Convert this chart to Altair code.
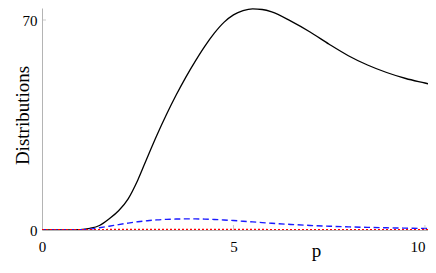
import altair as alt
import pandas as pd

p_vals = [0, 0.5, 1.0, 1.25, 1.5, 1.75, 2.0, 2.25, 2.5, 2.75, 3.0, 3.25, 3.5, 3.75, 4.0,
          4.25, 4.5, 4.75, 5.0, 5.25, 5.5, 5.75, 6.0, 6.5, 7.0, 7.5, 8.0, 8.5, 9.0, 9.5, 10.0, 10.3]
black_vals = [0, 0.0, 0.15, 0.55, 1.5, 3.7, 6.4, 10.4, 16.6, 24.2, 31.6, 38.5, 44.9, 50.8, 56.2,
              61.2, 65.6, 69.2, 71.7, 73.1, 73.7, 73.5, 72.7, 69.6, 66.0, 61.9, 58.1, 55.0, 52.5, 50.5, 49.0, 48.1]
blue_vals = [0, 0.0, 0.1, 0.3, 0.75, 1.25, 1.8, 2.3, 2.75, 3.1, 3.38, 3.55, 3.65, 3.7, 3.7,
             3.64, 3.52, 3.35, 3.15, 2.92, 2.7, 2.47, 2.25, 1.85, 1.52, 1.26, 1.05, 0.88, 0.74, 0.62, 0.52, 0.47]
red_vals = [0, 0.0, 0.02, 0.04, 0.06, 0.08, 0.1, 0.11, 0.12, 0.12, 0.12, 0.12, 0.12, 0.12, 0.11,
            0.11, 0.1, 0.1, 0.09, 0.09, 0.08, 0.08, 0.07, 0.07, 0.06, 0.06, 0.05, 0.05, 0.05, 0.04, 0.04, 0.04]

x_ticks = [0, 5, 10]
y_ticks = [0, 70]

W, H = 386, 222
XMAX, YMAX = 10.08, 74.0
FONT = "Liberation Serif"
AXIS_GRAY = "#b4b4b4"

df = pd.DataFrame({"p": p_vals, "black": black_vals, "blue": blue_vals, "red": red_vals})

xs = alt.Scale(domain=[0, XMAX], nice=False, zero=False)
ys = alt.Scale(domain=[0, YMAX], nice=False)

x_axis = alt.Axis(values=x_ticks, title="p", labelPadding=9,
                  labelAlign=alt.expr("datum.value == 10 ? 'right' : 'center'"),
                  titleX=274, titleY=26, titleBaseline="alphabetic", titleAlign="center")
y_axis = alt.Axis(values=y_ticks, title="Distributions", labelPadding=5, labelBaseline="middle",
                  titleX=-14, titleY=107, titleBaseline="alphabetic", titleAlign="center", titleAngle=270)

base = alt.Chart(df)

black = base.mark_line(color="black", strokeWidth=1.3, interpolate="monotone", clip=True).encode(
    x=alt.X("p:Q", scale=xs, axis=x_axis),
    y=alt.Y("black:Q", scale=ys, axis=y_axis),
)
blue = base.mark_line(color="#1a1aff", strokeWidth=1.4, strokeDash=[6, 3.5], interpolate="monotone", clip=True).encode(
    x=alt.X("p:Q", scale=xs, axis=x_axis), y=alt.Y("blue:Q", scale=ys, axis=y_axis))
red = base.mark_line(color="#ff0000", strokeWidth=1.8, strokeDash=[2, 2], interpolate="monotone", clip=True).encode(
    x=alt.X("p:Q", scale=xs, axis=x_axis), y=alt.Y("red:Q", scale=ys, axis=y_axis))

xt = alt.Chart(pd.DataFrame({"t": x_ticks[1:]})).mark_tick(
    color=AXIS_GRAY, size=5, thickness=1, orient="vertical", yOffset=-2.5).encode(
    x=alt.X("t:Q", scale=xs, axis=x_axis), y=alt.datum(0, scale=ys, axis=y_axis))
yt = alt.Chart(pd.DataFrame({"t": y_ticks[1:]})).mark_tick(
    color=AXIS_GRAY, size=4, thickness=1, orient="horizontal", xOffset=2).encode(
    y=alt.Y("t:Q", scale=ys, axis=y_axis), x=alt.datum(0, scale=xs, axis=x_axis))

chart = alt.layer(black, blue, red, xt, yt).properties(
    width=W, height=H,
    background="white",
    padding={"left": 34, "top": 0, "right": 0, "bottom": 33},
    autosize=alt.AutoSizeParams(type="none"),
).configure_axis(
    grid=False, ticks=False, tickSize=0, domainColor=AXIS_GRAY,
    labelFont=FONT, labelFontSize=15, labelColor="black", labelFlush=False, labelOverlap=False,
    titleFont=FONT, titleFontSize=19, titleFontWeight="normal", titleColor="black",
).configure_view(strokeWidth=0, stroke="transparent")

chart.save("out.html", embed_options={"renderer": "svg", "actions": False})
